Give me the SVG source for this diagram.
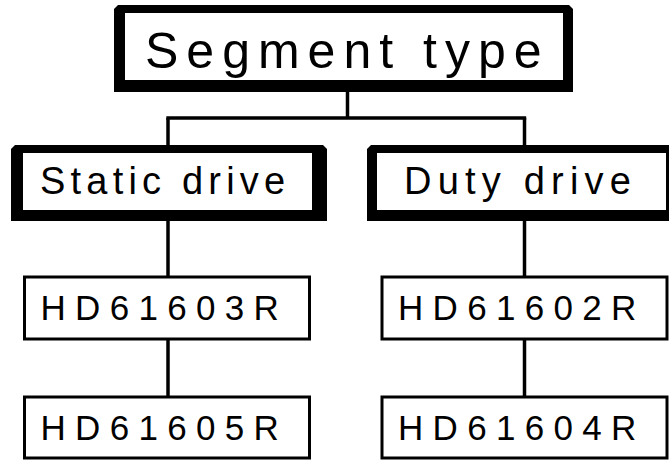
<svg xmlns="http://www.w3.org/2000/svg" width="669" height="462" viewBox="0 0 669 462">
<style>
.shadow{fill:#000}
.inner{fill:#fff}
.box{fill:#fff;stroke:#000;stroke-width:3}
.lbl{font-family:"Liberation Sans",Arial,sans-serif;fill:#000}
.conn{stroke:#000;stroke-width:3.5;fill:none}
</style>
<rect width="669" height="462" fill="#fff"/>
<g id="connectors">
<line class="conn" x1="347.5" y1="92" x2="347.5" y2="118"/>
<line class="conn" x1="166.3" y1="118" x2="526.2" y2="118"/>
<line class="conn" x1="168" y1="118" x2="168" y2="145"/>
<line class="conn" x1="524.5" y1="118" x2="524.5" y2="145"/>
<line class="conn" x1="168" y1="221" x2="168" y2="277"/>
<line class="conn" x1="524.5" y1="221" x2="524.5" y2="277"/>
<line class="conn" x1="168" y1="339" x2="168" y2="397"/>
<line class="conn" x1="524.5" y1="339" x2="524.5" y2="397"/>
</g>
<g id="segment-type">
<path class="shadow" d="M118,5 H569 L573,9 V92 H114 V9 Z"/>
<rect class="inner" x="125" y="13" width="438" height="67"/>
<text class="lbl" x="145" y="68" font-size="50" letter-spacing="8">Segment type</text>
</g>
<g id="static-drive">
<path class="shadow" d="M15,145 H323 L327,149 V221 H11 V149 Z"/>
<rect class="inner" x="23" y="153" width="289" height="57"/>
<text class="lbl" x="40" y="194" font-size="38" letter-spacing="5.2">Static drive</text>
</g>
<g id="duty-drive">
<path class="shadow" d="M371,145 H675 V221 H367 V149 Z"/>
<rect class="inner" x="377" y="153" width="289" height="57"/>
<text class="lbl" x="404" y="194" font-size="38" letter-spacing="6.2">Duty drive</text>
</g>
<g id="hd61603r">
<rect class="box" x="24.5" y="277" width="285" height="62"/>
<text class="lbl" x="40.5" y="320" font-size="35" letter-spacing="9.3">HD61603R</text>
</g>
<g id="hd61605r">
<rect class="box" x="24.5" y="397" width="285" height="61"/>
<text class="lbl" x="40.5" y="440" font-size="35" letter-spacing="9.3">HD61605R</text>
</g>
<g id="hd61602r">
<rect class="box" x="382" y="277" width="285" height="62"/>
<text class="lbl" x="398" y="320" font-size="35" letter-spacing="9.3">HD61602R</text>
</g>
<g id="hd61604r">
<rect class="box" x="382" y="397" width="285" height="61"/>
<text class="lbl" x="398" y="440" font-size="35" letter-spacing="9.3">HD61604R</text>
</g>
</svg>
